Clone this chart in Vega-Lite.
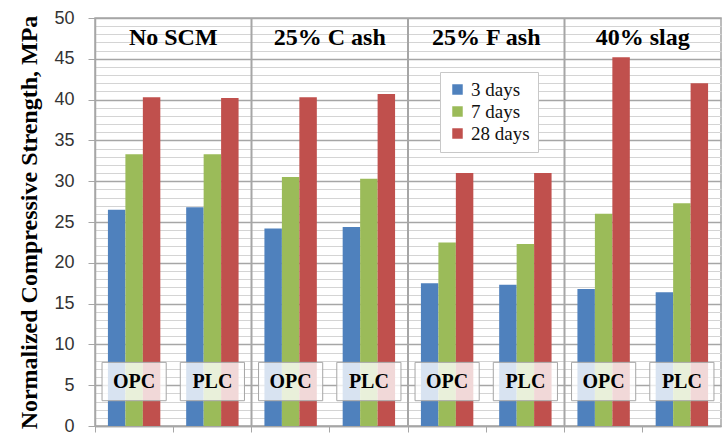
{
  "$schema": "https://vega.github.io/schema/vega-lite/v6.json",
  "width": 626,
  "height": 408,
  "autosize": {"type": "none"},
  "padding": {"left": 95, "top": 18, "right": 4, "bottom": 14},
  "background": "white",
  "config": {
    "view": {"stroke": "#a6a6a6", "strokeWidth": 1.5},
    "axisY": {
      "titleFont": "Liberation Serif",
      "titleFontSize": 24,
      "titleFontWeight": "bold",
      "titleColor": "#000",
      "titlePadding": 12,
      "labelFont": "Liberation Sans",
      "labelFontSize": 18,
      "labelColor": "#333",
      "labelPadding": 14,
      "labelOverlap": false,
      "tickSize": 7,
      "tickColor": "#a6a6a6",
      "domainColor": "#a6a6a6",
      "domainWidth": 1.5,
      "grid": true,
      "gridOpacity": 1
    },
    "legend": {
      "orient": "none",
      "legendX": 345,
      "legendY": 54,
      "fillColor": "white",
      "strokeColor": "#c8c8c8",
      "padding": 8,
      "symbolType": "square",
      "symbolSize": 110,
      "symbolStrokeWidth": 0,
      "symbolOpacity": 1,
      "labelFont": "Liberation Serif",
      "labelFontSize": 19,
      "labelColor": "#111",
      "rowPadding": 2,
      "labelOffset": 4
    }
  },
  "data": {
    "values": [
      {"group": "No SCM", "cement": "OPC", "cat": "No SCM OPC", "day": "3 days", "value": 26.5},
      {"group": "No SCM", "cement": "OPC", "cat": "No SCM OPC", "day": "7 days", "value": 33.3},
      {"group": "No SCM", "cement": "OPC", "cat": "No SCM OPC", "day": "28 days", "value": 40.3},
      {"group": "No SCM", "cement": "PLC", "cat": "No SCM PLC", "day": "3 days", "value": 26.8},
      {"group": "No SCM", "cement": "PLC", "cat": "No SCM PLC", "day": "7 days", "value": 33.3},
      {"group": "No SCM", "cement": "PLC", "cat": "No SCM PLC", "day": "28 days", "value": 40.2},
      {"group": "25% C ash", "cement": "OPC", "cat": "25% C ash OPC", "day": "3 days", "value": 24.2},
      {"group": "25% C ash", "cement": "OPC", "cat": "25% C ash OPC", "day": "7 days", "value": 30.5},
      {"group": "25% C ash", "cement": "OPC", "cat": "25% C ash OPC", "day": "28 days", "value": 40.3},
      {"group": "25% C ash", "cement": "PLC", "cat": "25% C ash PLC", "day": "3 days", "value": 24.4},
      {"group": "25% C ash", "cement": "PLC", "cat": "25% C ash PLC", "day": "7 days", "value": 30.3},
      {"group": "25% C ash", "cement": "PLC", "cat": "25% C ash PLC", "day": "28 days", "value": 40.7},
      {"group": "25% F ash", "cement": "OPC", "cat": "25% F ash OPC", "day": "3 days", "value": 17.5},
      {"group": "25% F ash", "cement": "OPC", "cat": "25% F ash OPC", "day": "7 days", "value": 22.5},
      {"group": "25% F ash", "cement": "OPC", "cat": "25% F ash OPC", "day": "28 days", "value": 31.0},
      {"group": "25% F ash", "cement": "PLC", "cat": "25% F ash PLC", "day": "3 days", "value": 17.3},
      {"group": "25% F ash", "cement": "PLC", "cat": "25% F ash PLC", "day": "7 days", "value": 22.3},
      {"group": "25% F ash", "cement": "PLC", "cat": "25% F ash PLC", "day": "28 days", "value": 31.0},
      {"group": "40% slag", "cement": "OPC", "cat": "40% slag OPC", "day": "3 days", "value": 16.8},
      {"group": "40% slag", "cement": "OPC", "cat": "40% slag OPC", "day": "7 days", "value": 26.0},
      {"group": "40% slag", "cement": "OPC", "cat": "40% slag OPC", "day": "28 days", "value": 45.2},
      {"group": "40% slag", "cement": "PLC", "cat": "40% slag PLC", "day": "3 days", "value": 16.4},
      {"group": "40% slag", "cement": "PLC", "cat": "40% slag PLC", "day": "7 days", "value": 27.3},
      {"group": "40% slag", "cement": "PLC", "cat": "40% slag PLC", "day": "28 days", "value": 42.0}
    ]
  },
  "encoding": {
    "x": {
      "field": "cat",
      "type": "nominal",
      "scale": {
        "domain": ["No SCM OPC", "No SCM PLC", "25% C ash OPC", "25% C ash PLC", "25% F ash OPC", "25% F ash PLC", "40% slag OPC", "40% slag PLC"],
        "paddingInner": 0,
        "paddingOuter": 0
      },
      "axis": {
        "title": null,
        "labels": false,
        "bandPosition": 0,
        "domainColor": "#a6a6a6",
        "domainWidth": 1.5,
        "tickColor": "#a6a6a6",
        "tickSize": 6,
        "grid": false
      }
    }
  },
  "layer": [
    {
      "transform": [{"filter": "datum.cement === 'OPC' && datum.day === '3 days' && datum.group !== 'No SCM'"}],
      "mark": {"type": "rule", "color": "#a6a6a6", "strokeWidth": 2},
      "encoding": {
        "x": {"field": "cat", "type": "nominal", "bandPosition": 0}
      }
    },
    {
      "mark": {"type": "bar"},
      "encoding": {
        "xOffset": {
          "field": "day",
          "type": "nominal",
          "scale": {"domain": ["3 days", "7 days", "28 days"], "paddingInner": 0, "paddingOuter": 0.74}
        },
        "y": {
          "field": "value",
          "type": "quantitative",
          "scale": {"domain": [0, 50], "nice": false},
          "axis": {
            "title": "Normalized Compressive Strength, MPa",
            "tickCount": 60,
            "values": [0, 1, 2, 3, 4, 5, 6, 7, 8, 9, 10, 11, 12, 13, 14, 15, 16, 17, 18, 19, 20, 21, 22, 23, 24, 25, 26, 27, 28, 29, 30, 31, 32, 33, 34, 35, 36, 37, 38, 39, 40, 41, 42, 43, 44, 45, 46, 47, 48, 49, 50],
            "labelExpr": "datum.value % 5 === 0 ? datum.label : ''",
            "tickOpacity": {"condition": {"test": "datum.value % 5 === 0", "value": 1}, "value": 0},
            "gridColor": {"condition": {"test": "datum.value % 5 === 0", "value": "#a6a6a6"}, "value": "#d4d4d4"},
            "gridWidth": {"condition": {"test": "datum.value % 5 === 0", "value": 1.5}, "value": 1}
          }
        },
        "color": {
          "field": "day",
          "type": "nominal",
          "scale": {"domain": ["3 days", "7 days", "28 days"], "range": ["#4f81bd", "#9bbb59", "#c0504d"]},
          "legend": {"title": null}
        }
      }
    },
    {
      "transform": [{"filter": "datum.day === '3 days'"}],
      "mark": {"type": "bar", "width": {"band": 0.82}, "fill": "white", "fillOpacity": 0.78, "stroke": "#a6a6a6", "strokeWidth": 1},
      "encoding": {
        "y": {"datum": 3.1, "type": "quantitative"},
        "y2": {"datum": 7.8}
      }
    },
    {
      "transform": [{"filter": "datum.day === '3 days'"}],
      "mark": {"type": "text", "font": "Liberation Serif", "fontSize": 20, "fontWeight": "bold", "color": "#000", "baseline": "middle", "align": "center"},
      "encoding": {
        "y": {"datum": 5.4, "type": "quantitative"},
        "text": {"field": "cement"}
      }
    },
    {
      "transform": [{"filter": "datum.day === '3 days' && datum.cement === 'PLC'"}],
      "mark": {"type": "text", "font": "Liberation Serif", "fontSize": 24, "fontWeight": "bold", "color": "#000", "baseline": "middle", "align": "center"},
      "encoding": {
        "x": {"field": "cat", "type": "nominal", "bandPosition": 0},
        "y": {"datum": 47.5, "type": "quantitative"},
        "text": {"field": "group"}
      }
    }
  ]
}
